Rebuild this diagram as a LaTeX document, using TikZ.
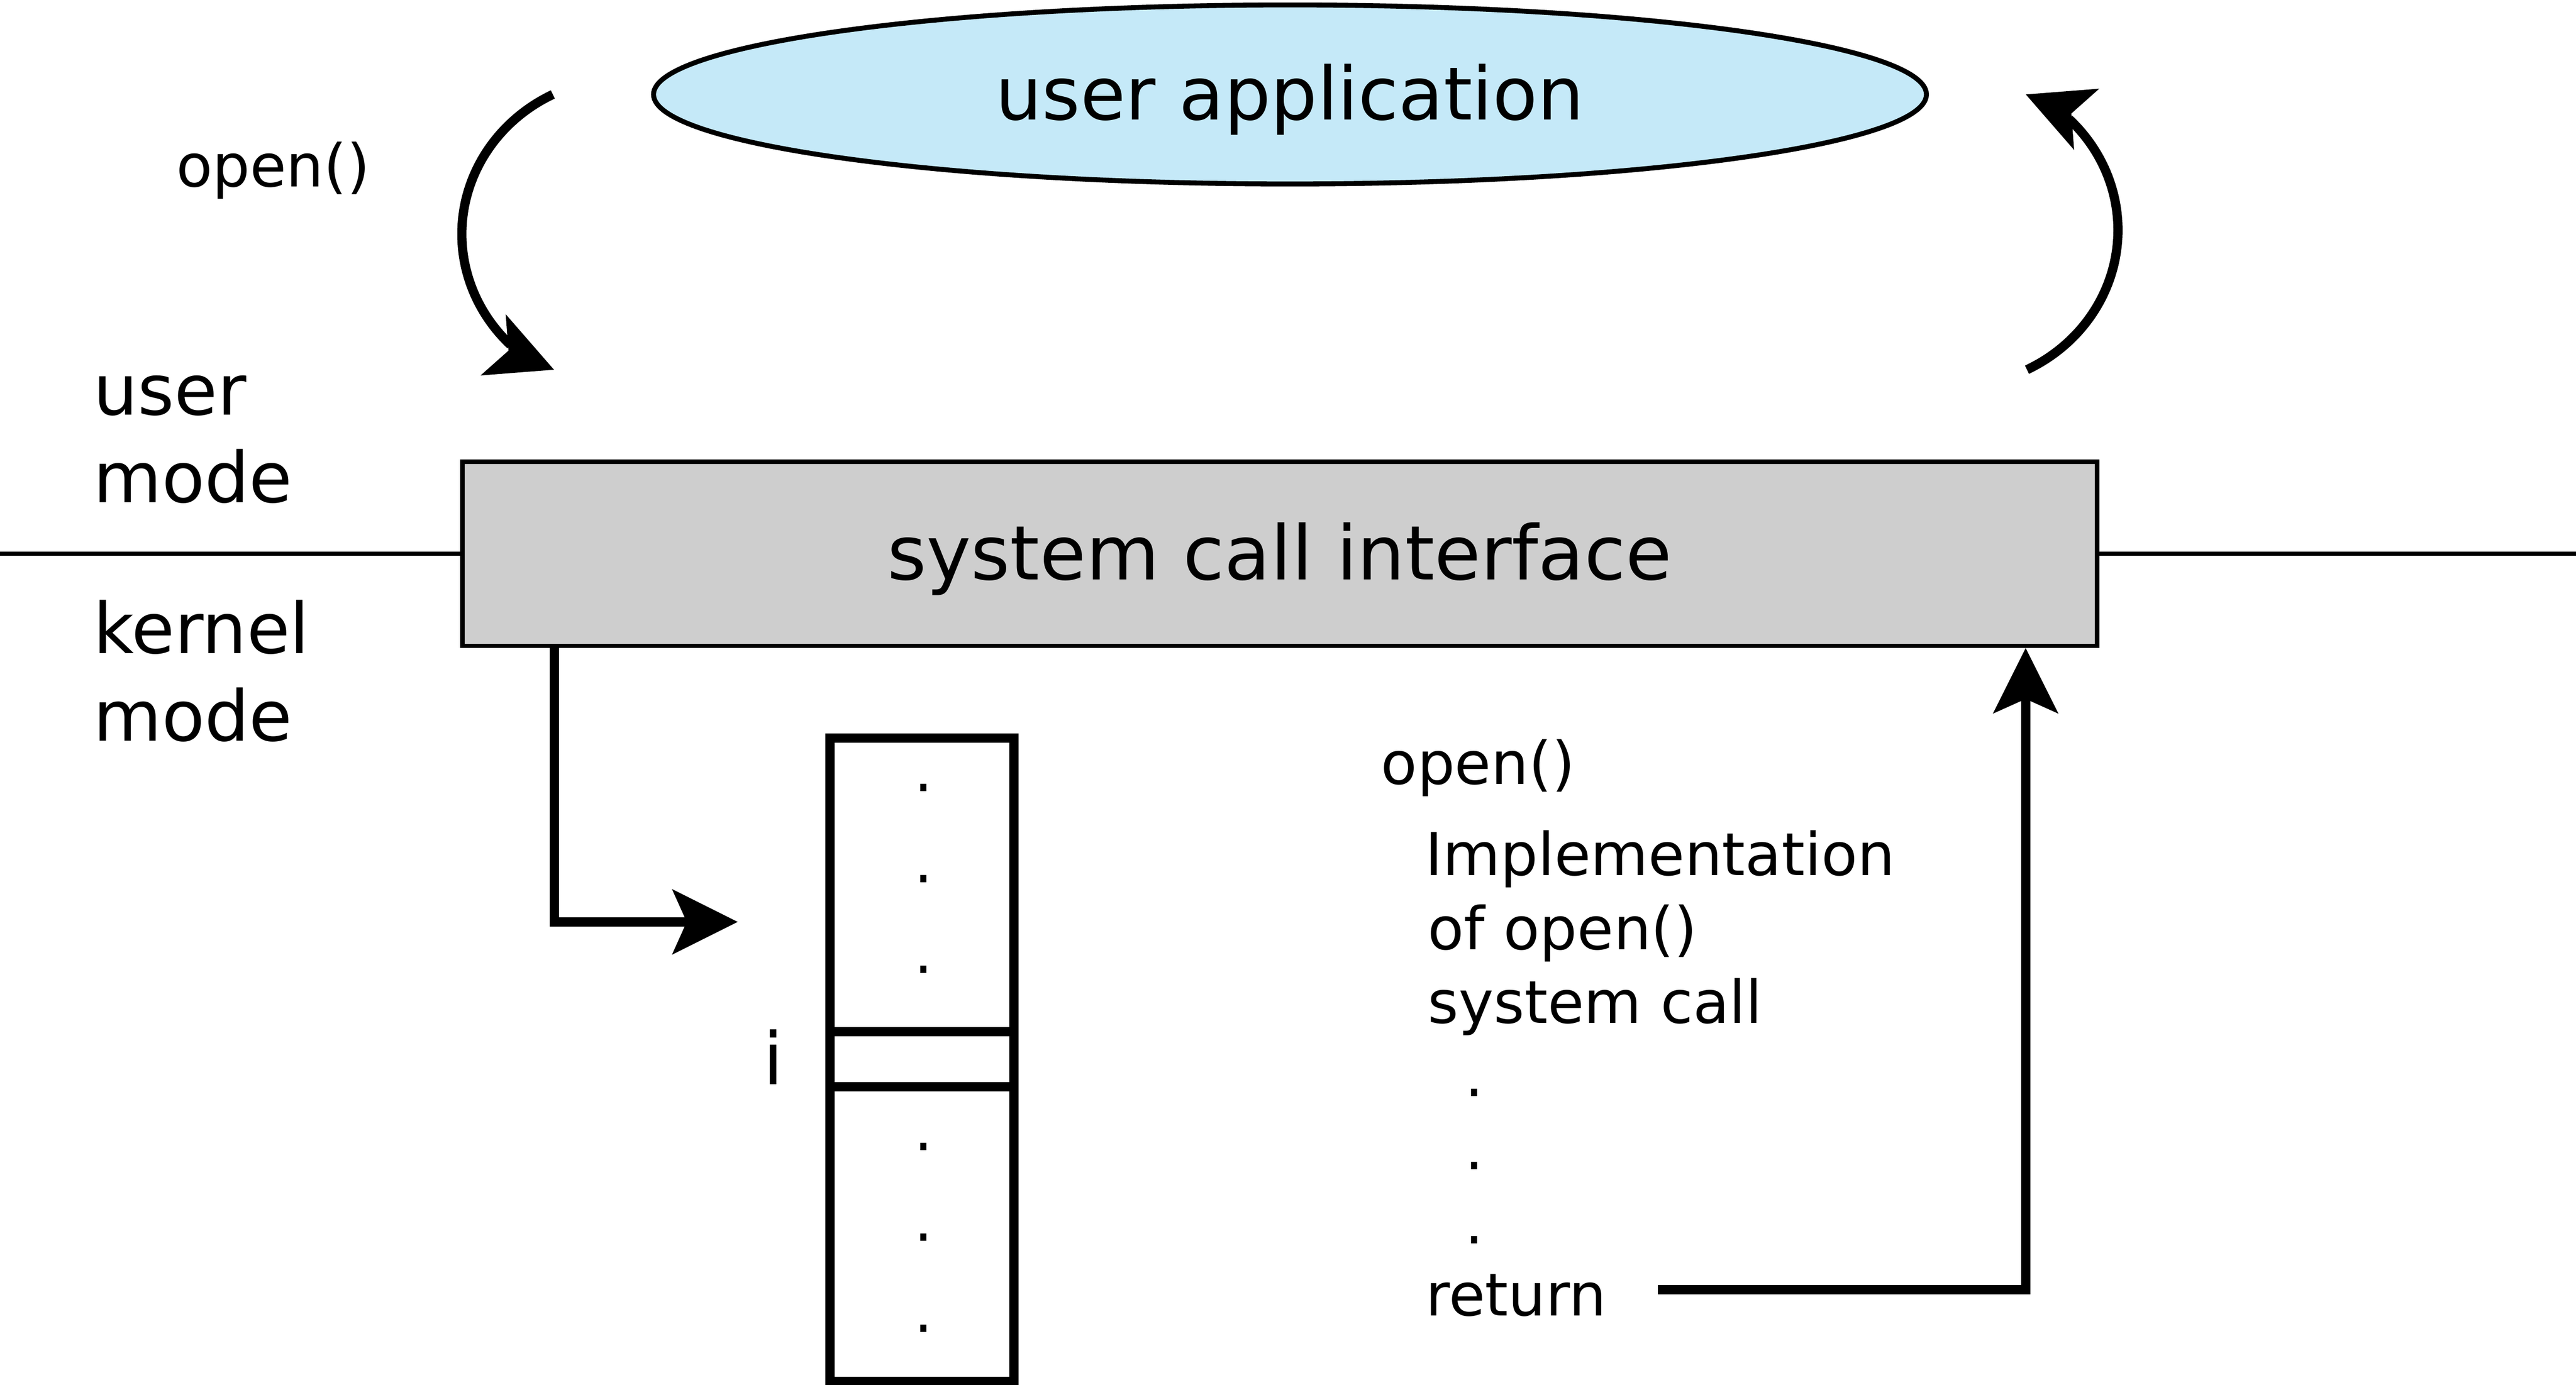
\documentclass[tikz,border=0pt]{standalone}
\usepackage{fontspec}
\setmainfont{DejaVu Sans}
\usetikzlibrary{shapes.geometric,arrows.meta}
\definecolor{appblue}{RGB}{197,233,248}
\definecolor{scigray}{RGB}{206,206,206}
\begin{document}
\begin{tikzpicture}[x=1pt,y=-1pt,
  heavy/.style={line width=5.6pt},
  arr/.style={heavy,-{Stealth[length=40pt,width=40pt,inset=9pt,line width=0pt]}},
  sep/.style={line width=2.5pt},
  txt/.style={inner sep=0pt,anchor=base west},
  bigfont/.style={font=\fontsize{42.7}{53}\selectfont},
  smallfont/.style={font=\fontsize{36}{45}\selectfont},
  dotlbl/.style={inner sep=0pt,anchor=base,font=\fontsize{36}{45}\selectfont},
  cell/.style={draw,line width=5.6pt,minimum width=111.9pt,inner sep=0pt,outer sep=0pt}]
\useasboundingbox (0,0) rectangle (1568,843.1);

% user application
\node[ellipse,draw,fill=appblue,line width=3pt,minimum width=774.8pt,minimum height=109pt,
      inner sep=0pt,text height=30.6pt,text depth=0pt,font=\fontsize{44.7}{56}\selectfont]
      (app) at (785.2,57.5) {user application};

% system call interface
\node[draw,fill=scigray,line width=2.7pt,minimum width=995.1pt,minimum height=112pt,
      inner sep=0pt,text height=31.2pt,text depth=0pt,font=\fontsize{45.8}{57}\selectfont]
      (sci) at (778.95,337.2) {system call interface};

% mode separator line
\coordinate (lineL) at (0,0);
\coordinate (lineR) at (1568,0);
\draw[sep] (sci.west) -- (sci.west -| lineL);
\draw[sep] (sci.east) -- (sci.east -| lineR);

% mode labels
\node[txt,bigfont] (um1) at (56.7,252.7) {user};
\node[txt,bigfont] (um2) at (56.7,306) {mode};
\node[txt,bigfont] (km1) at (56.7,397.8) {kernel};
\node[txt,bigfont] (km2) at (56.7,451.1) {mode};

% open() label at top left
\node[txt,smallfont] (callopen) at (107.1,113.8) {open()};

% left curved arrow (call)
\coordinate (lcs) at (336.5,57.5);
\coordinate (ltip) at (337.2,225.1);
\coordinate (lb1) at (307.8,191.3);
\coordinate (lnotch) at (309.5,213.5);
\coordinate (lb2) at (292.5,228.6);
\draw[heavy] (lcs) arc[start angle=116.5,end angle=225.3,x radius=100pt,y radius=95pt];
\fill (ltip) -- (lb1) -- (lnotch) -- (lb2) -- cycle;

% right curved arrow (return)
\coordinate (rcs) at (1233.8,225.1);
\coordinate (rtip) at (1233.1,57.5);
\coordinate (rb1) at (1262.5,91.3);
\coordinate (rnotch) at (1260.8,69.1);
\coordinate (rb2) at (1277.8,54.0);
\draw[heavy] (rcs) arc[start angle=-63.5,end angle=45.3,x radius=100pt,y radius=95pt];
\fill (rtip) -- (rb1) -- (rnotch) -- (rb2) -- cycle;

% system call table
\node[cell,minimum height=178.9pt] (t1) at (561.15,538.75) {};
\node[cell,minimum height=33.6pt] (ti) at (561.15,645) {};
\node[cell,minimum height=179.2pt] (t2) at (561.15,751.4) {};
\node[inner sep=0pt,anchor=base,font=\fontsize{44}{55}\selectfont] (ilbl) at (470.7,660.2) {i};
\node[dotlbl] (d1) at (562.3,481.9) {.};
\node[dotlbl] (d2) at (562.3,537.2) {.};
\node[dotlbl] (d3) at (562.3,592.4) {.};
\node[dotlbl] (d4) at (562.3,700.4) {.};
\node[dotlbl] (d5) at (562.3,755.7) {.};
\node[dotlbl] (d6) at (562.3,811.0) {.};

% arrow from interface into table
\coordinate (callx) at (337.3,0);
\coordinate (callend) at (449,561.3);
\draw[arr] (callx |- sci.south) |- (callend);

% kernel implementation text
\node[txt,smallfont] (kopen) at (840.5,477.3) {open()};
\node[txt,smallfont] (impl1) at (867.4,532.9) {Implementation};
\node[txt,smallfont] (impl2) at (868.9,578.1) {of open()};
\node[txt,smallfont] (impl3) at (869,623) {system call};
\node[dotlbl] (k1) at (897.5,667.6) {.};
\node[dotlbl] (k2) at (897.5,711.9) {.};
\node[dotlbl] (k3) at (897.5,757.3) {.};
\node[txt,smallfont] (ret) at (867.7,801) {return};

% return arrow
\coordinate (retstart) at (1009,785.2);
\coordinate (retx) at (1233,0);
\draw[arr] (retstart) -| (retx |- sci.south);
\end{tikzpicture}
\end{document}
